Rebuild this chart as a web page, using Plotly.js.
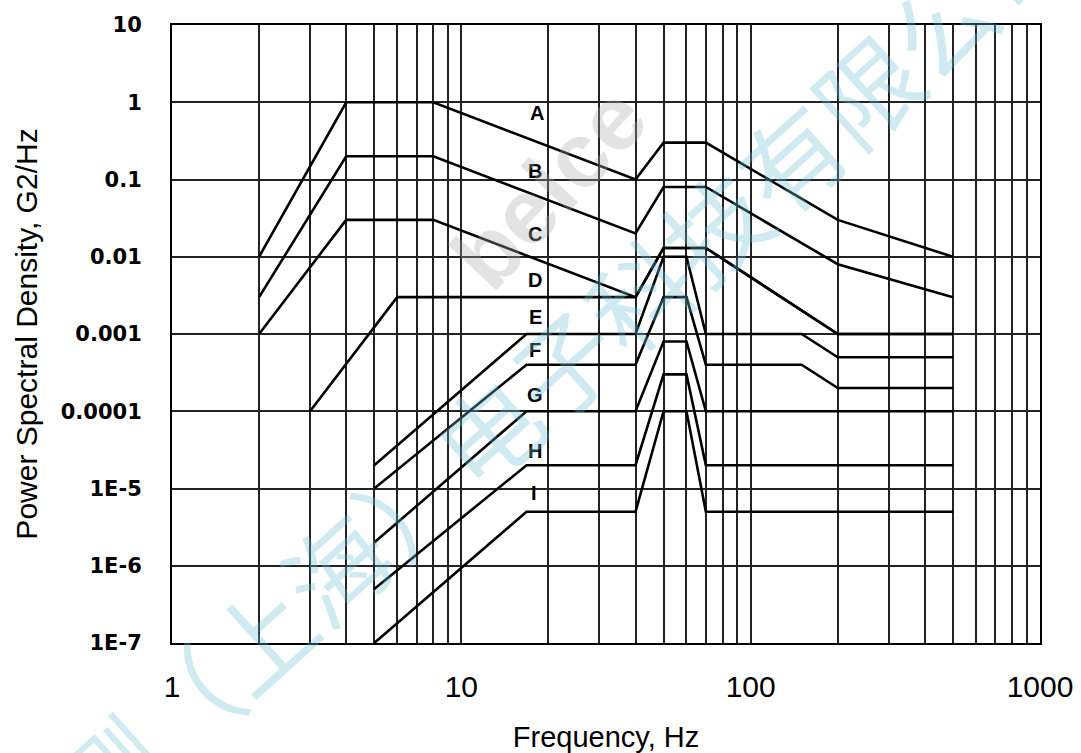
<!DOCTYPE html>
<html>
<head>
<meta charset="utf-8">
<script src="https://cdn.plot.ly/plotly-3.0.1.min.js"></script>
<style>html,body{margin:0;padding:0;background:#fff;}#chart{width:1081px;height:753px;}</style>
</head>
<body>
<div id="chart"></div>
<script>
// ---- data ----
const curveNames = ['A','B','C','D','E','F','G','H','I'];

const freqA = [2, 4, 8, 40, 50, 70, 200, 500];
const psdA  = [0.01, 1, 1, 0.1, 0.3, 0.3, 0.03, 0.01];

const freqB = [2, 4, 8, 40, 50, 70, 200, 500];
const psdB  = [0.003, 0.2, 0.2, 0.02, 0.08, 0.08, 0.008, 0.003];

const freqC = [2, 4, 8, 40, 50, 70, 200, 500];
const psdC  = [0.001, 0.03, 0.03, 0.003, 0.013, 0.013, 0.001, 0.001];

const freqD = [3, 6, 40, 50, 70, 200, 500];
const psdD  = [0.0001, 0.003, 0.003, 0.013, 0.013, 0.001, 0.001];

const freqE = [5, 16.8, 40, 50, 60, 70, 150, 200, 500];
const psdE  = [2e-5, 0.001, 0.001, 0.01, 0.01, 0.001, 0.001, 0.0005, 0.0005];

const freqF = [5, 16.8, 40, 50, 60, 70, 150, 200, 500];
const psdF  = [1e-5, 0.0004, 0.0004, 0.003, 0.003, 0.0004, 0.0004, 0.0002, 0.0002];

const freqG = [5, 16.8, 40, 50, 60, 70, 500];
const psdG  = [2e-6, 1e-4, 1e-4, 8e-4, 8e-4, 1e-4, 1e-4];

const freqH = [5, 16.8, 40, 50, 60, 70, 500];
const psdH  = [5e-7, 2e-5, 2e-5, 3e-4, 3e-4, 2e-5, 2e-5];

const freqI = [5, 16.8, 40, 50, 60, 70, 500];
const psdI  = [1e-7, 5e-6, 5e-6, 1e-4, 1e-4, 5e-6, 5e-6];

// curve label anchors (frequency, psd)
const labelFreq = [18.3, 18, 18, 18, 18, 18, 18, 18, 17.8];
const labelPsd  = [0.72, 0.13, 0.0195, 0.005, 0.00165, 0.00062, 0.00016, 0.000031, 0.0000087];

// axis ticks
const yTickVals = [1e-7, 1e-6, 1e-5, 1e-4, 1e-3, 1e-2, 1e-1, 1, 10];
const yTickText = ['1E-7', '1E-6', '1E-5', '0.0001', '0.001', '0.01', '0.1', '1', '10'];
const xDecades = [1, 10, 100, 1000];
const xDecadeText = ['1', '10', '100', '1000'];

const xTitle = 'Frequency, Hz';
const yTitle = 'Power Spectral Density, G2/Hz';
const watermarkCn = '北测（上海）电子科技有限公司';
const watermarkEn = 'beice';

// ---- build ----
const freqs = [freqA, freqB, freqC, freqD, freqE, freqF, freqG, freqH, freqI];
const psds  = [psdA, psdB, psdC, psdD, psdE, psdF, psdG, psdH, psdI];

const traces = curveNames.map((n, i) => ({
  x: freqs[i], y: psds[i], name: n, type: 'scatter', mode: 'lines',
  line: {color: '#000', width: 2.6}, hoverinfo: 'skip'
}));

// grid at every integer multiple within decades
const xTickVals = [], xTickText = [];
for (let d = 0; d < xDecades.length; d++) {
  const base = xDecades[d];
  const lim = d === xDecades.length - 1 ? 1 : 9;
  for (let k = 1; k <= lim; k++) {
    xTickVals.push(base * k);
    xTickText.push(k === 1 ? xDecadeText[d] : '');
  }
}

const annotations = curveNames.map((n, i) => ({
  x: Math.log10(labelFreq[i]), y: Math.log10(labelPsd[i]), xref: 'x', yref: 'y',
  text: n, showarrow: false, xanchor: 'center', yanchor: 'middle',
  font: {family: 'Liberation Sans, Arial', size: 20, color: '#000', weight: 'bold'}
}));

annotations.push({
  xref: 'paper', yref: 'paper', x: 0.434, y: 0.738, xanchor: 'center', yanchor: 'middle',
  text: watermarkEn, showarrow: false,
  textangle: -47, font: {family: 'Liberation Sans, Arial', size: 92, color: 'rgba(170,170,170,0.33)', weight: 'bold'}
});
annotations.push({
  xref: 'paper', yref: 'paper', x: 0.405, y: 0.40, xanchor: 'center', yanchor: 'middle',
  text: watermarkCn, showarrow: false,
  textangle: -42, font: {family: 'Noto Sans CJK SC', size: 102, color: 'rgba(110,190,212,0.33)'}
});

const layout = {
  width: 1081, height: 753,
  margin: {l: 172, r: 41, t: 25, b: 110, pad: 0},
  paper_bgcolor: '#fff', plot_bgcolor: '#fff',
  showlegend: false,
  xaxis: {
    type: 'log', range: [0, 3],
    tickmode: 'array', tickvals: xTickVals, ticktext: xTickText,
    showgrid: true, gridcolor: '#222', gridwidth: 2,
    showline: true, mirror: true, linecolor: '#000', linewidth: 2,
    ticks: '', ticklabelstandoff: 16,
    tickfont: {family: 'Liberation Sans, Arial', size: 30, color: '#000'},
    zeroline: false,
    title: {text: xTitle, standoff: 26, font: {family: 'Liberation Sans, Arial', size: 29, color: '#000'}}
  },
  yaxis: {
    type: 'log', range: [-7, 1],
    tickmode: 'array', tickvals: yTickVals, ticktext: yTickText,
    showgrid: true, gridcolor: '#222', gridwidth: 2,
    showline: true, mirror: true, linecolor: '#000', linewidth: 2,
    ticks: '', ticklabelstandoff: 24,
    tickfont: {family: 'DejaVu Sans', size: 21, color: '#000', weight: 'bold'},
    zeroline: false,
    title: {text: yTitle, standoff: 14, font: {family: 'Liberation Sans, Arial', size: 30, color: '#000'}}
  },
  annotations: annotations
};

Plotly.newPlot('chart', traces, layout, {staticPlot: true, displayModeBar: false});
</script>
</body>
</html>
